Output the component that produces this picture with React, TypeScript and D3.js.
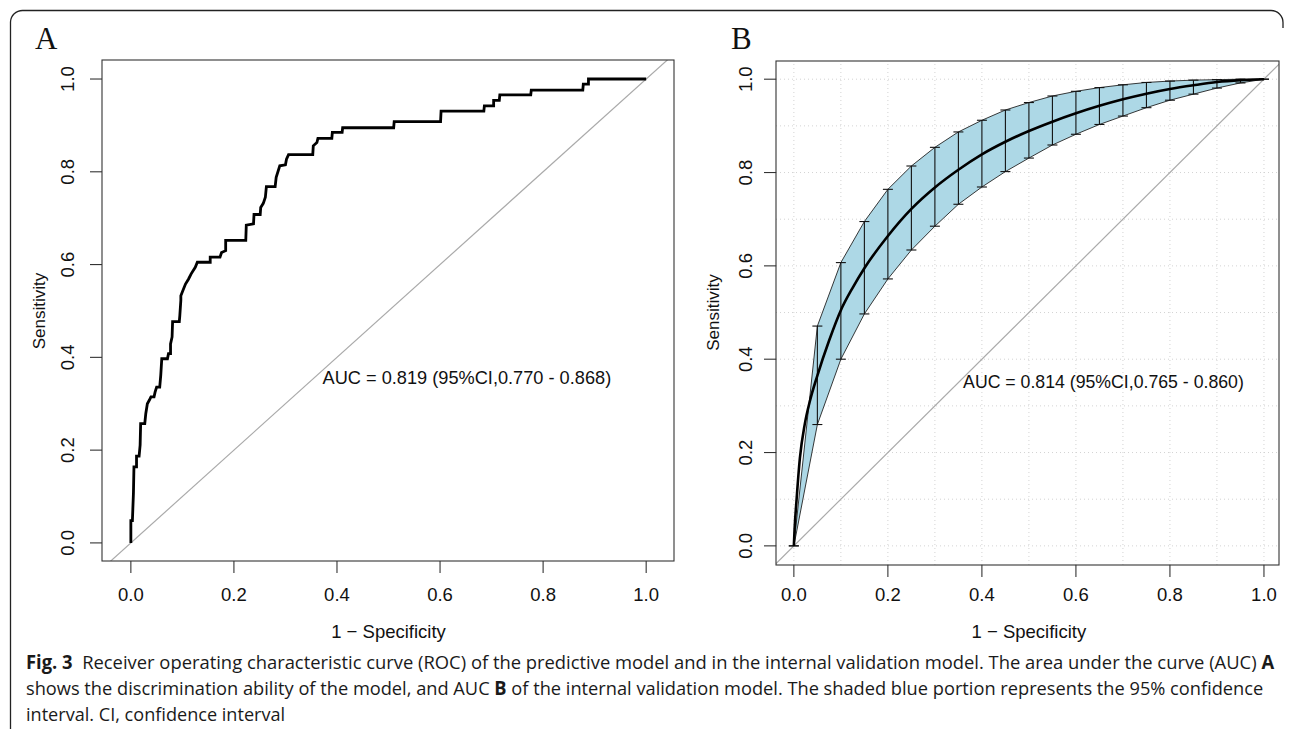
import React, { useLayoutEffect, useRef, useState } from "react";
import * as d3 from "d3";

// ---------- DATA ----------
// Panel A: empirical ROC (1 - specificity, sensitivity)
const rocAFpr = [0, 0, 0.003, 0.005, 0.006, 0.011, 0.011, 0.016, 0.018, 0.019, 0.027, 0.029, 0.032, 0.036, 0.039, 0.045, 0.047, 0.05, 0.056, 0.058, 0.06, 0.071, 0.073, 0.077, 0.077, 0.08, 0.081, 0.094, 0.095, 0.097, 0.097, 0.101, 0.106, 0.112, 0.117, 0.125, 0.129, 0.154, 0.154, 0.173, 0.176, 0.184, 0.184, 0.223, 0.224, 0.238, 0.239, 0.251, 0.252, 0.257, 0.261, 0.263, 0.28, 0.282, 0.289, 0.3, 0.302, 0.306, 0.353, 0.354, 0.361, 0.363, 0.39, 0.391, 0.41, 0.411, 0.51, 0.511, 0.601, 0.602, 0.685, 0.686, 0.704, 0.704, 0.715, 0.716, 0.776, 0.777, 0.877, 0.878, 0.888, 0.888, 1.0];
const rocATpr = [0, 0.048, 0.048, 0.107, 0.164, 0.164, 0.187, 0.187, 0.211, 0.257, 0.257, 0.279, 0.3, 0.308, 0.315, 0.315, 0.325, 0.336, 0.336, 0.361, 0.397, 0.397, 0.408, 0.408, 0.429, 0.444, 0.477, 0.477, 0.49, 0.523, 0.533, 0.544, 0.558, 0.569, 0.58, 0.594, 0.605, 0.605, 0.616, 0.616, 0.626, 0.63, 0.652, 0.652, 0.685, 0.688, 0.708, 0.708, 0.723, 0.732, 0.745, 0.768, 0.768, 0.788, 0.813, 0.815, 0.827, 0.837, 0.837, 0.856, 0.863, 0.872, 0.872, 0.885, 0.885, 0.895, 0.895, 0.908, 0.908, 0.931, 0.931, 0.942, 0.942, 0.954, 0.954, 0.966, 0.966, 0.976, 0.976, 0.989, 0.989, 1.0, 1.0];

// Panel B: smoothed ROC
const rocBFpr = [0, 0.0015, 0.0057, 0.0128, 0.0234, 0.034, 0.05, 0.075, 0.1, 0.125, 0.15, 0.2, 0.25, 0.3, 0.35, 0.4, 0.45, 0.5, 0.55, 0.6, 0.65, 0.7, 0.75, 0.8, 0.85, 0.9, 0.95, 1.0];
const rocBTpr = [0, 0.035, 0.098, 0.188, 0.262, 0.31, 0.365, 0.44, 0.505, 0.553, 0.595, 0.664, 0.722, 0.768, 0.806, 0.839, 0.866, 0.889, 0.909, 0.927, 0.943, 0.957, 0.969, 0.979, 0.987, 0.994, 0.998, 1.0];

// Panel B: 95% CI of sensitivity at fixed 1 - specificity
const ciFpr = [0, 0.05, 0.1, 0.15, 0.2, 0.25, 0.3, 0.35, 0.4, 0.45, 0.5, 0.55, 0.6, 0.65, 0.7, 0.75, 0.8, 0.85, 0.9, 0.95, 1.0];
const ciLower = [0, 0.26, 0.4, 0.497, 0.572, 0.634, 0.685, 0.732, 0.769, 0.802, 0.831, 0.859, 0.882, 0.903, 0.921, 0.939, 0.955, 0.968, 0.981, 0.992, 1.0];
const ciUpper = [0, 0.471, 0.607, 0.695, 0.764, 0.814, 0.854, 0.887, 0.912, 0.934, 0.95, 0.964, 0.974, 0.982, 0.988, 0.993, 0.996, 0.998, 0.999, 1.0, 1.0];

const tickValues = [0, 0.2, 0.4, 0.6, 0.8, 1.0];
const gridValues = [0, 0.1, 0.2, 0.3, 0.4, 0.5, 0.6, 0.7, 0.8, 0.9, 1.0];

const aucTextA = "AUC = 0.819 (95%CI,0.770 - 0.868)";
const aucTextB = "AUC = 0.814 (95%CI,0.765 - 0.860)";

const captionLine1a = "Fig. 3";
const captionLine1b = "\u00a0\u00a0Receiver operating characteristic curve (ROC) of the predictive model and in the internal validation model. The area under the curve (AUC) ";
const captionLine1c = "A";
const captionLine2a = "shows the discrimination ability of the model, and AUC ";
const captionLine2b = "B";
const captionLine2c = " of the internal validation model. The shaded blue portion represents the 95% confidence";
const captionLine3 = "interval. CI, confidence interval";

// ---------- LAYOUT ----------
const W = 1293;
const H = 730;
const SANS = "'Liberation Sans', Arial, Helvetica, sans-serif";
const FS = 18.5;

type PanelCfg = {
  id: string;
  letter: string;
  letterX: number;
  x: d3.ScaleLinear<number, number>;
  y: d3.ScaleLinear<number, number>;
  yTickLabelX: number;
  yTitleX: number;
  aucX: number;
  aucY: number;
  aucText: string;
};

const panelA: PanelCfg = {
  id: "A",
  letter: "A",
  letterX: 35,
  x: d3.scaleLinear().domain([-0.056, 1.054]).range([102, 674]),
  y: d3.scaleLinear().domain([-0.039, 1.041]).range([561, 60]),
  yTickLabelX: 74,
  yTitleX: 45,
  aucX: 0.372,
  aucY: 0.342,
  aucText: aucTextA,
};

const panelB: PanelCfg = {
  id: "B",
  letter: "B",
  letterX: 731,
  x: d3.scaleLinear().domain([-0.038, 1.032]).range([776, 1279]),
  y: d3.scaleLinear().domain([-0.041, 1.039]).range([565, 61]),
  yTickLabelX: 752,
  yTitleX: 719,
  aucX: 0.36,
  aucY: 0.338,
  aucText: aucTextB,
};

function Axes({ p }: { p: PanelCfg }) {
  const [x0, x1] = p.x.range();
  const [y0, y1] = p.y.range();
  const xMid = (p.x(0) + p.x(1)) / 2;
  const yMid = (p.y(0) + p.y(1)) / 2;
  return (
    <g>
      <rect x={x0} y={y1} width={x1 - x0} height={y0 - y1} fill="none" stroke="#333" strokeWidth={1.1} />
      {tickValues.map((t) => (
        <g key={"xt" + t}>
          <line x1={p.x(t)} x2={p.x(t)} y1={y0} y2={y0 + 12} stroke="#333" strokeWidth={1.1} />
          <text x={p.x(t)} y={601} textAnchor="middle" fontFamily={SANS} fontSize={FS} fill="#111">
            {t.toFixed(1)}
          </text>
        </g>
      ))}
      {tickValues.map((t) => (
        <g key={"yt" + t}>
          <line x1={x0 - 12} x2={x0} y1={p.y(t)} y2={p.y(t)} stroke="#333" strokeWidth={1.1} />
          <text
            transform={`translate(${p.yTickLabelX},${p.y(t)}) rotate(-90)`}
            textAnchor="middle"
            fontFamily={SANS}
            fontSize={FS}
            fill="#111"
          >
            {t.toFixed(1)}
          </text>
        </g>
      ))}
      <text x={xMid} y={638} textAnchor="middle" fontFamily={SANS} fontSize={FS} fill="#111">
        1 − Specificity
      </text>
      <text
        transform={`translate(${p.yTitleX},${yMid}) rotate(-90)`}
        textAnchor="middle"
        fontFamily={SANS}
        fontSize={FS * 0.92}
        fill="#111"
      >
        Sensitivity
      </text>
      <text x={p.letterX} y={49} fontFamily="'Liberation Serif', 'Times New Roman', serif" fontSize={31} fill="#111">
        {p.letter}
      </text>
    </g>
  );
}

function Diagonal({ p }: { p: PanelCfg }) {
  const [x0, x1] = p.x.range();
  const [y0, y1] = p.y.range();
  return (
    <g>
      <defs>
        <clipPath id={"clip" + p.id}>
          <rect x={x0} y={y1} width={x1 - x0} height={y0 - y1} />
        </clipPath>
      </defs>
      <line
        clipPath={`url(#clip${p.id})`}
        x1={p.x(-0.2)}
        y1={p.y(-0.2)}
        x2={p.x(1.2)}
        y2={p.y(1.2)}
        stroke="#aaaaaa"
        strokeWidth={1.2}
      />
    </g>
  );
}

function PanelA() {
  const p = panelA;
  const pts: [number, number][] = rocAFpr.map((f, i) => [f, rocATpr[i]]);
  const line = d3
    .line<[number, number]>()
    .x((d) => p.x(d[0]))
    .y((d) => p.y(d[1]));
  return (
    <g>
      <Diagonal p={p} />
      <path d={line(pts) || ""} fill="none" stroke="#000" strokeWidth={2.8} strokeLinejoin="miter" />
      <text x={p.x(p.aucX)} y={p.y(p.aucY)} fontFamily={SANS} fontSize={18.2} fill="#111">
        {p.aucText}
      </text>
      <Axes p={p} />
    </g>
  );
}

function PanelB() {
  const p = panelB;
  const [x0, x1] = p.x.range();
  const [y0, y1] = p.y.range();
  const area = d3
    .area<number>()
    .x((_, i) => p.x(ciFpr[i]))
    .y0((_, i) => p.y(ciLower[i]))
    .y1((_, i) => p.y(ciUpper[i]));
  const curve = d3
    .line<number>()
    .x((_, i) => p.x(rocBFpr[i]))
    .y((d) => p.y(d))
    .curve(d3.curveMonotoneX);
  const capHalf = 5;
  return (
    <g>
      {gridValues.map((g) => (
        <g key={"g" + g}>
          <line x1={p.x(g)} x2={p.x(g)} y1={y0} y2={y1} stroke="#d3d3d3" strokeWidth={1} strokeDasharray="1 3" />
          <line x1={x0} x2={x1} y1={p.y(g)} y2={p.y(g)} stroke="#d3d3d3" strokeWidth={1} strokeDasharray="1 3" />
        </g>
      ))}
      <Diagonal p={p} />
      <path d={area(ciFpr) || ""} fill="#add8e6" stroke="#222" strokeWidth={0.9} />
      {ciFpr.map((f, i) => (
        <g key={"bar" + i} stroke="#111" strokeWidth={1.1}>
          <line x1={p.x(f)} x2={p.x(f)} y1={p.y(ciLower[i])} y2={p.y(ciUpper[i])} />
          <line x1={p.x(f) - capHalf} x2={p.x(f) + capHalf} y1={p.y(ciLower[i])} y2={p.y(ciLower[i])} />
          <line x1={p.x(f) - capHalf} x2={p.x(f) + capHalf} y1={p.y(ciUpper[i])} y2={p.y(ciUpper[i])} />
        </g>
      ))}
      <path d={curve(rocBTpr) || ""} fill="none" stroke="#000" strokeWidth={2.6} />
      <text x={p.x(p.aucX)} y={p.y(p.aucY)} fontFamily={SANS} fontSize={17.7} fill="#111">
        {p.aucText}
      </text>
      <Axes p={p} />
    </g>
  );
}

// A caption line scaled horizontally to the measured width of the reference's condensed face
function CaptionLine({ y, width, children }: { y: number; width: number; children: React.ReactNode }) {
  const ref = useRef<SVGTextElement>(null);
  const [sx, setSx] = useState(0.86);
  useLayoutEffect(() => {
    if (ref.current) {
      const w = ref.current.getBBox().width;
      if (w > 0) setSx(width / w);
    }
  }, [width]);
  return (
    <g transform={`translate(26,${y}) scale(${sx},1)`}>
      <text ref={ref} x={0} y={0}>
        {children}
      </text>
    </g>
  );
}

function Caption() {
  const CF = "'Open Sans', 'Noto Sans', sans-serif";
  return (
    <g fontFamily={CF} fontSize={19} fill="#1a1a1a">
      <CaptionLine y={669} width={1248}>
        <tspan fontWeight="bold">{captionLine1a}</tspan>
        {captionLine1b}
        <tspan fontWeight="bold">{captionLine1c}</tspan>
      </CaptionLine>
      <CaptionLine y={695} width={1237}>
        {captionLine2a}
        <tspan fontWeight="bold">{captionLine2b}</tspan>
        {captionLine2c}
      </CaptionLine>
      <CaptionLine y={721} width={259}>
        {captionLine3}
      </CaptionLine>
    </g>
  );
}

export default function App() {
  return (
    <svg
      width={W}
      height={H}
      viewBox={`0 0 ${W} ${H}`}
      style={{ position: "absolute", left: 0, top: 0, background: "#fff" }}
      xmlns="http://www.w3.org/2000/svg"
    >
      <rect x={0} y={0} width={W} height={H} fill="#fff" />
      <path
        d="M10.5,729 L10.5,22 A12,12 0 0 1 22.5,10.5 L1271,10.5 A12,12 0 0 1 1283,22.5 L1283,28"
        fill="none"
        stroke="#222"
        strokeWidth={1.3}
      />
      <PanelA />
      <PanelB />
      <Caption />
    </svg>
  );
}
